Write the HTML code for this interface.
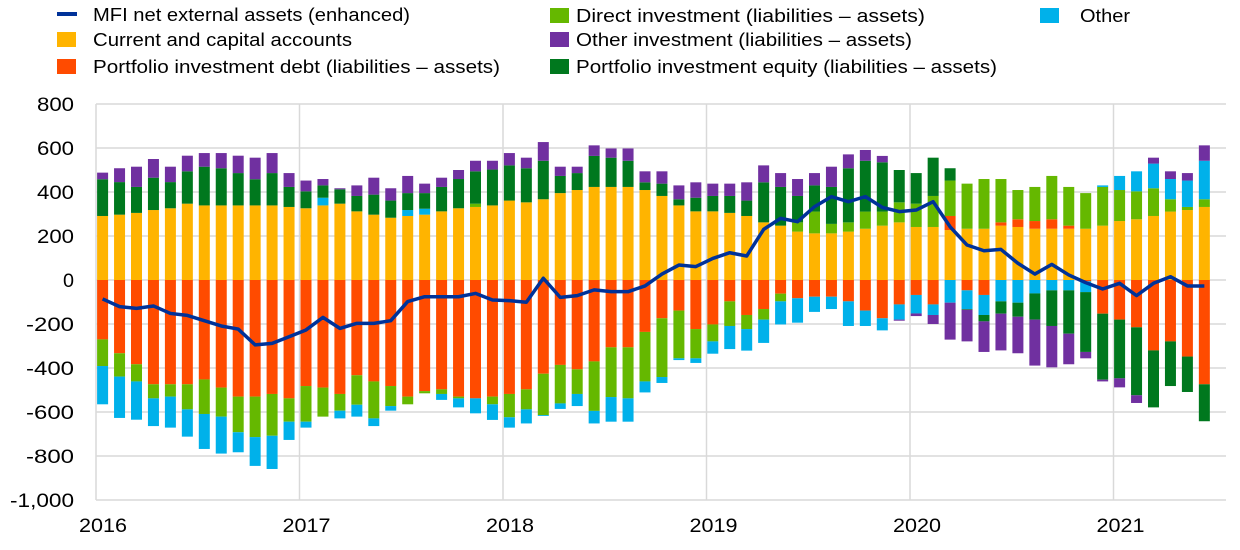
<!DOCTYPE html>
<html><head><meta charset="utf-8"><style>
html,body{margin:0;padding:0;background:#fff;width:1240px;height:550px;overflow:hidden}
svg text{font-family:"Liberation Sans",Arial,sans-serif;fill:#000}
</style></head><body>
<svg id="s" width="1240" height="550" xmlns="http://www.w3.org/2000/svg"></svg>
<script>
const C={y:'#FFB400',l:'#65B800',r:'#FF4B00',g:'#00781E',p:'#7030A0',c:'#00B1EA'};
const B=[
[[['y',291],['g',458],['p',488]],[['r',-270],['l',-391],['c',-565]]],
[[['y',297],['g',445],['p',508]],[['r',-333],['l',-439],['c',-627]]],
[[['y',305],['g',423],['p',515]],[['r',-383],['l',-461],['c',-635]]],
[[['y',318],['g',465],['p',550]],[['r',-474],['l',-538],['c',-664]]],
[[['y',326],['g',445],['p',515]],[['r',-474],['l',-530],['c',-671]]],
[[['y',347],['g',494],['p',565]],[['r',-474],['l',-588],['c',-712]]],
[[['y',339],['g',515],['p',577]],[['r',-452],['l',-609],['c',-768]]],
[[['y',339],['g',508],['p',577]],[['r',-489],['l',-621],['c',-789]]],
[[['y',339],['g',486],['p',565]],[['r',-530],['l',-692],['c',-783]]],
[[['y',339],['g',458],['p',556]],[['r',-530],['l',-714],['c',-845]]],
[[['y',339],['g',486],['p',577]],[['r',-518],['l',-708],['c',-859]]],
[[['y',332],['g',423],['p',486]],[['r',-538],['l',-644],['c',-727]]],
[[['y',326],['g',403],['p',452]],[['r',-482],['l',-644],['c',-671]]],
[[['y',339],['c',374],['g',430],['p',459]],[['r',-489],['l',-621]]],
[[['y',347],['g',412],['p',417]],[['r',-518],['l',-594],['c',-629]]],
[[['y',312],['g',382],['p',430]],[['r',-433],['l',-567],['c',-621]]],
[[['y',297],['g',388],['p',465]],[['r',-461],['l',-629],['c',-664]]],
[[['y',283],['g',361],['p',417]],[['r',-482],['l',-573],['c',-594]]],
[[['y',291],['c',318],['g',395],['p',473]],[['r',-530],['l',-565]]],
[[['y',297],['c',324],['g',395],['p',438]],[['r',-505],['l',-515]]],
[[['y',312],['g',423],['p',465]],[['r',-497],['l',-518],['c',-545]]],
[[['y',326],['g',459],['p',500]],[['r',-530],['l',-538],['c',-579]]],
[[['y',332],['l',347],['g',494],['p',542]],[['r',-538],['c',-606]]],
[[['y',339],['g',502],['p',542]],[['r',-530],['l',-565],['c',-636]]],
[[['y',361],['g',521],['p',577]],[['r',-518],['l',-624],['c',-671]]],
[[['y',353],['g',508],['p',556]],[['r',-497],['l',-588],['c',-652]]],
[[['y',367],['g',542],['p',627]],[['r',-426],['l',-614],['c',-618]]],
[[['y',395],['g',473],['p',515]],[['r',-386],['l',-561],['c',-586]]],
[[['y',409],['g',486],['p',515]],[['r',-406],['l',-518],['c',-573]]],
[[['y',423],['g',564],['p',612]],[['r',-370],['l',-595],['c',-652]]],
[[['y',423],['g',556],['p',598]],[['r',-306],['l',-532],['c',-644]]],
[[['y',423],['g',542],['p',598]],[['r',-306],['l',-538],['c',-644]]],
[[['y',409],['g',444],['p',494]],[['r',-236],['l',-461],['c',-511]]],
[[['y',382],['g',438],['p',494]],[['r',-174],['l',-441],['c',-468]]],
[[['y',339],['g',367],['p',430]],[['r',-139],['l',-356],['c',-364]]],
[[['y',312],['g',374],['p',444]],[['r',-223],['l',-356],['c',-377]]],
[[['y',312],['g',382],['p',438]],[['r',-202],['l',-279],['c',-335]]],
[[['y',305],['g',382],['p',438]],[['r',-97],['l',-209],['c',-314]]],
[[['y',291],['g',361],['p',444]],[['r',-159],['l',-223],['c',-321]]],
[[['y',262],['g',444],['p',521]],[['r',-132],['l',-180],['c',-286]]],
[[['y',247],['g',423],['p',486]],[['r',-62],['l',-97],['c',-202]]],
[[['y',220],['l',262],['g',382],['p',459]],[['r',-83],['c',-194]]],
[[['y',212],['l',311],['g',430],['p',486]],[['r',-76],['c',-145]]],
[[['y',212],['l',255],['g',423],['p',515]],[['r',-76],['c',-132]]],
[[['y',220],['l',262],['g',508],['p',571]],[['r',-97],['c',-209]]],
[[['y',233],['l',311],['g',542],['p',591]],[['r',-139],['c',-209]]],
[[['y',247],['l',311],['g',535],['p',564]],[['r',-174],['c',-229]]],
[[['y',262],['l',353],['g',500]],[['r',-111],['c',-180],['p',-185]]],
[[['y',241],['l',347],['g',486]],[['r',-68],['c',-152],['p',-164]]],
[[['y',241],['l',382],['g',556]],[['r',-111],['c',-159],['p',-200]]],
[[['y',227],['r',291],['l',452],['g',508]],[['c',-103],['p',-271]]],
[[['y',233],['l',438]],[['r',-47],['c',-132],['g',-135],['p',-279]]],
[[['y',233],['l',459]],[['r',-68],['c',-159],['g',-188],['p',-327]]],
[[['y',247],['r',262],['l',459]],[['c',-97],['g',-153],['p',-320]]],
[[['y',241],['r',276],['l',409]],[['c',-103],['g',-167],['p',-333]]],
[[['y',233],['r',268],['l',423]],[['c',-61],['g',-180],['p',-389]]],
[[['y',233],['r',276],['l',473]],[['c',-47],['g',-209],['p',-397]]],
[[['y',233],['r',247],['l',423]],[['c',-47],['g',-244],['p',-383]]],
[[['y',233],['l',395]],[['r',-6],['c',-55],['g',-327],['p',-356]]],
[[['y',247],['l',423],['c',430]],[['r',-153],['g',-453],['p',-461]]],
[[['y',268],['l',409],['c',473]],[['r',-180],['g',-447],['p',-488]]],
[[['y',276],['l',403],['c',494]],[['r',-215],['g',-524],['p',-559]]],
[[['y',291],['l',417],['c',529],['p',556]],[['r',-320],['g',-579]]],
[[['y',311],['l',367],['c',459],['p',494]],[['r',-279],['g',-482]]],
[[['y',318],['l',332],['c',452],['p',486]],[['r',-348],['g',-509]]],
[[['y',332],['l',367],['c',542],['p',612]],[['r',-474],['g',-642]]]
];
const L=[-86,-121,-129,-118,-152,-161,-185,-209,-223,-295,-288,-258,-227,-170,-220,-197,-197,-185,-98,-76,-76,-76,-61,-91,-94,-101,8,-79,-71,-45,-53,-53,-27,27,68,61,98,124,109,230,280,265,333,379,356,379,330,311,318,356,242,159,133,139,76,27,71,23,-12,-41,-15,-71,-15,15,-27,-27];
const Y=v=>280-v*0.22, X=i=>102.6+16.95*i;
let h='';
for(let v=-1000;v<=800;v+=200){h+=`<line x1="96" x2="1226" y1="${Y(v)}" y2="${Y(v)}" stroke="#d9d9d9" stroke-width="1.5"/>`;
const s=(v<0?'-':'')+(Math.abs(v)>=1000?'1,000':Math.abs(v));
const w=s.length==6?64:(s.length==4?48:(s.length==3?37:(s.length==2?24:11)));
h+=`<text x="74" y="${Y(v)+7}" font-size="19" text-anchor="end" textLength="${w}" lengthAdjust="spacingAndGlyphs">${s}</text>`;}
[2016,2017,2018,2019,2020,2021].forEach((yr,k)=>{const x=96+203.5*k;h+=`<line x1="${x}" x2="${x}" y1="104" y2="500" stroke="#d9d9d9" stroke-width="1.5"/>`;
h+=`<text x="${x+7}" y="532" font-size="19" text-anchor="middle" textLength="48" lengthAdjust="spacingAndGlyphs">${yr}</text>`;});
B.forEach((b,i)=>{const x=X(i)-5.5;let p=0;
b[0].forEach(([c,v])=>{h+=`<rect x="${x}" y="${Y(v)}" width="11" height="${(v-p)*0.22}" fill="${C[c]}"/>`;p=v;});
p=0;b[1].forEach(([c,v])=>{h+=`<rect x="${x}" y="${Y(p)}" width="11" height="${(p-v)*0.22}" fill="${C[c]}"/>`;p=v;});});
h+=`<polyline fill="none" stroke="#003299" stroke-width="3.5" stroke-linejoin="round" points="${L.map((v,i)=>X(i)+','+Y(v)).join(' ')}"/>`;
h+=`<line x1="57" x2="77" y1="14" y2="14" stroke="#003299" stroke-width="4"/>`;
h+=`<text x="93" y="21" font-size="18" textLength="317" lengthAdjust="spacingAndGlyphs">MFI net external assets (enhanced)</text>`;
const leg=[[57,39,'y','Current and capital accounts',93,259],[57,66,'r','Portfolio investment debt (liabilities – assets)',93,407],
[550,15,'l','Direct investment (liabilities – assets)',576,349],[550,39,'p','Other investment (liabilities – assets)',576,336],[550,66,'g','Portfolio investment equity (liabilities – assets)',576,421],[1040,15,'c','Other',1080,50]];
leg.forEach(([x,y,c,t,tx,w])=>{h+=`<rect x="${x}" y="${y-7}" width="19" height="15" fill="${C[c]}"/><text x="${tx}" y="${y+7}" font-size="18" textLength="${w}" lengthAdjust="spacingAndGlyphs">${t}</text>`;});
document.getElementById('s').innerHTML=h;
</script>
</body></html>
